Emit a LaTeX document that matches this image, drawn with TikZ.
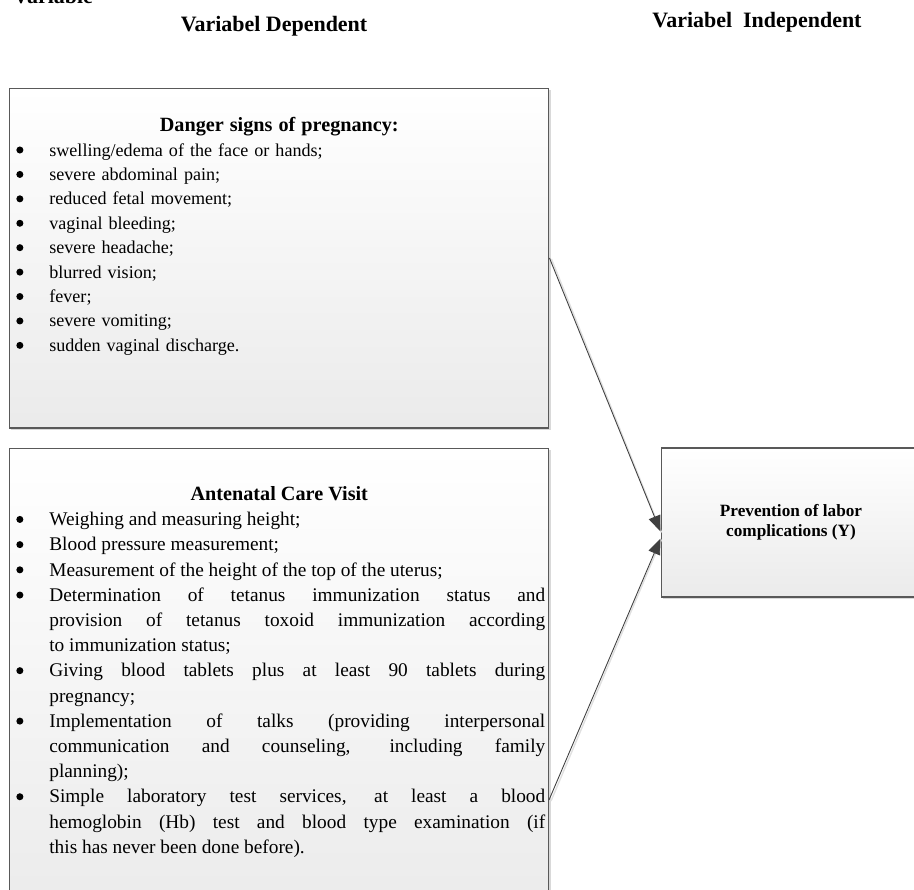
\documentclass[tikz,border=0pt]{standalone}
\usepackage{fontspec}
\setmainfont{Liberation Serif}
\usepackage{enumitem}
\usetikzlibrary{arrows.meta, calc, shadows}
\newcommand{\dotmark}{\raisebox{0.3ex}{\tikz\fill[black] (0,0) circle (2pt);}}
\setlist[itemize]{label=\dotmark, leftmargin=0.78cm, labelwidth=0.3cm, labelsep=0.36cm, align=left, itemsep=0pt, topsep=0pt, parsep=0pt, partopsep=0pt}

\begin{document}
\begin{tikzpicture}[x=0.02cm, y=-0.02cm,
    frame/.style={draw=black!65, line width=0.6pt, top color=white, bottom color=black!8, drop shadow={shadow xshift=1.2pt, shadow yshift=-1.2pt, opacity=0.3}, inner sep=0pt},
    listbox/.style={inner sep=0pt, anchor=north west, text width=10.76cm},
    title/.style={font=\fontsize{12.5}{15}\selectfont\bfseries},
    link/.style={draw=black!75, line width=0.5pt, -{Triangle[length=9pt, width=7pt]}},
    linkshade/.style={draw=black!12, line width=0.8pt}]
  \useasboundingbox (0,0) rectangle (914,890);
  \node[title, anchor=base west] (cut) at (7,3) {Variable};
  \node[title] (dep) at (274,26) {Variabel Dependent};
  \node[title] (indep) at (757,22) {Variabel\enspace Independent};

  \node[frame, minimum width=10.8cm, minimum height=6.8cm] (danger) at (279,258) {};
  \node[frame, minimum width=10.8cm, minimum height=9.44cm] (care) at (279,684) {};
  \node[frame, minimum width=5.2cm, minimum height=2.98cm, align=center,
        font=\fontsize{9.8}{11.4}\selectfont\bfseries] (prev) at (791,522.5)
        {Prevention of labor\\complications (Y)};

  \node[listbox, align=left, font=\fontsize{10.3}{13.9}\selectfont] (dangertxt) at (10,117) {%
    {\centering\bfseries\fontsize{11.5}{14}\selectfont Danger signs of pregnancy:\par}
    \begin{itemize}
      \item swelling/edema of the face or hands;
      \item severe abdominal pain;
      \item reduced fetal movement;
      \item vaginal bleeding;
      \item severe headache;
      \item blurred vision;
      \item fever;
      \item severe vomiting;
      \item sudden vaginal discharge.
    \end{itemize}};

  \node[listbox, align=justify, font=\fontsize{11}{14.35}\selectfont] (caretxt) at (10,486) {%
    \hyphenpenalty=10000
    {\centering\bfseries\fontsize{11.5}{14}\selectfont Antenatal Care Visit\par}
    \begin{itemize}[rightmargin=0.06cm]
      \item Weighing and measuring height;
      \item Blood pressure measurement;
      \item Measurement of the height of the top of the uterus;
      \item Determination of tetanus immunization status and\linebreak
        provision of tetanus toxoid immunization according\linebreak
        to immunization status;
      \item Giving blood tablets plus at least 90 tablets during\linebreak
        pregnancy;
      \item Implementation of talks (providing interpersonal\linebreak
        communication and counseling, including family\linebreak
        planning);
      \item Simple laboratory test services, at least a blood\linebreak
        hemoglobin (Hb) test and blood type examination (if\linebreak
        this has never been done before).
    \end{itemize}};

  \coordinate (tail) at (549,800);
  \draw[linkshade] ($(danger.east)+(2,1)$) -- ($(prev.west)+(1,10)$);
  \draw[linkshade] ($(tail)+(2,1)$) -- ($(prev.west)+(1,17)$);
  \draw[link] (danger.east) -- ($(prev.west)+(0,9)$);
  \draw[link] (tail) -- ($(prev.west)+(0,16)$);
\end{tikzpicture}
\end{document}
